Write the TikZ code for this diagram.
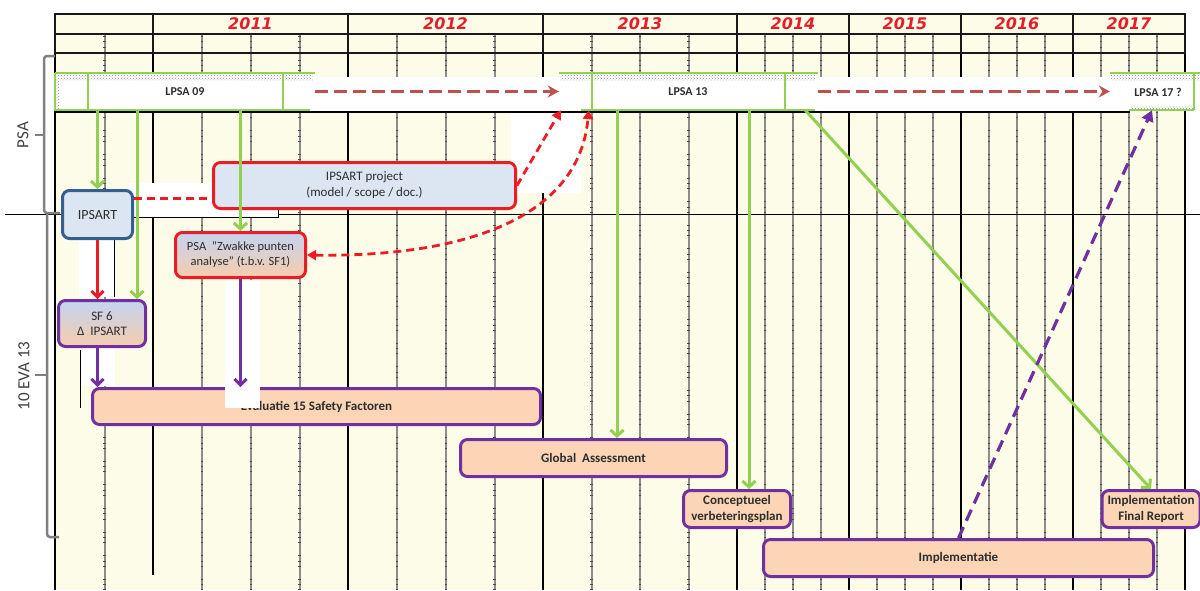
\documentclass[tikz,border=0pt]{standalone}
\usepackage{fontspec}
\setmainfont{Carlito}
\newfontfamily\yearfont{DejaVu Sans}
\usetikzlibrary{arrows.meta,patterns}
\definecolor{bgy}{RGB}{253,252,232}
\definecolor{grn}{RGB}{146,208,80}
\definecolor{rd}{RGB}{237,28,36}
\definecolor{drd}{RGB}{192,80,77}
\definecolor{prp}{RGB}{112,48,160}
\definecolor{blu}{RGB}{54,95,145}
\definecolor{lblu}{RGB}{220,230,242}
\definecolor{pch}{RGB}{251,213,181}
\definecolor{gtop}{RGB}{196,212,240}
\definecolor{gbot}{RGB}{246,204,172}
\definecolor{brk}{RGB}{128,128,128}
\definecolor{txt}{RGB}{45,45,45}
\definecolor{yr}{RGB}{230,30,40}
\definecolor{qgray}{RGB}{140,140,140}
\tikzset{
  rtip/.tip={Triangle[length=9pt,width=10pt]},
  qline/.style={draw=qgray, line width=2pt},
  qtick/.style={draw=black!70, line width=2.4pt, dash pattern=on 1pt off 4.3pt on 1pt off 4.3pt on 1pt off 12pt},
  yline/.style={draw=black, line width=1.6pt},
  hline/.style={draw=black!90, line width=2.5pt},
  yearlbl/.style={font=\yearfont\fontsize{16}{18}\selectfont\bfseries\itshape, text=yr, inner sep=0pt},
  brace/.style={draw=brk, line width=2.5pt, rounded corners=3pt},
  sidelbl/.style={font=\fontsize{17}{19}\selectfont, text=black!75, rotate=90, inner sep=0pt},
  gline/.style={draw=grn, line width=2.5pt},
  dots/.style={pattern=crosshatch dots, pattern color=black!45},
  barnode/.style={fill=white, inner sep=0pt, font=\fontsize{12}{14}\selectfont\bfseries, text=txt},
  box/.style={rounded corners=7pt, line width=3pt, inner sep=0pt, align=center, text=txt},
  bbox/.style={box, draw=blu, fill=lblu, font=\fontsize{14}{16}\selectfont},
  rbox/.style={box, draw=rd, fill=lblu, font=\fontsize{13}{16}\selectfont},
  pbox/.style={box, draw=prp, fill=pch, font=\fontsize{13}{16}\selectfont\bfseries},
  grad/.style={top color=gtop, bottom color=gbot},
  garrow/.style={draw=grn, line width=3pt, -{Straight Barb[length=6pt,width=13pt]}},
  rarrow/.style={draw=rd, line width=3pt, -{Straight Barb[length=6pt,width=12pt]}},
  parrow/.style={draw=prp, line width=3pt, -{Straight Barb[length=6pt,width=12pt]}},
  rdash/.style={draw=rd, line width=2.8pt, dash pattern=on 8pt off 5pt},
  ddash/.style={draw=drd, line width=3.2pt, dash pattern=on 13pt off 6pt, -{Stealth[length=11pt,width=12pt]}},
  pdash/.style={draw=prp, line width=3.2pt, dash pattern=on 12pt off 7pt, -{Triangle[length=11pt,width=12pt]}},
  whitebg/.style={fill=white},
  thinedge/.style={draw=black, line width=1pt}
}
\begin{document}
\begin{tikzpicture}[x=1pt,y=-1pt]
\useasboundingbox (0,0) rectangle (1200,590);
% background
\fill[bgy] (55,14) rectangle (1185,590);
% quarter lines
\foreach \x in {104.5,202,251,299.5,397,446,494.5,591.5,640,688.5,765,793,821,877,905,933,989,1017,1045,1101,1129,1157}{
  \draw[qline] (\x,34) -- (\x,590);
  \draw[qtick] (\x,36) -- (\x,590);
}
% year lines
\foreach \x in {55,348,543,737,849,961,1073,1185} \draw[yline] (\x,14) -- (\x,590);
\draw[yline] (153,14) -- (153,575);
\foreach \x in {55,153,348,543,737,849,961,1073,1185} \draw[hline] (\x,14) -- (\x,53);
\draw[hline] (54,14) -- (1186,14);
\draw[hline] (54,34) -- (1186,34);
\draw[hline] (54,53) -- (1186,53);
% year labels
\node[yearlbl] (y11) at (250.5,24) {2011};
\node[yearlbl] (y12) at (445.5,24) {2012};
\node[yearlbl] (y13) at (640,24) {2013};
\node[yearlbl] (y14) at (793,24) {2014};
\node[yearlbl] (y15) at (905,24) {2015};
\node[yearlbl] (y16) at (1017,24) {2016};
\node[yearlbl] (y17) at (1129,24) {2017};
% separators
\draw[black, line width=1.5pt] (5,214.5) -- (1200,214.5);
\draw[black, line width=1.2pt] (55,112) -- (1130,112);
% braces and side labels
\draw[brace] (55,56) -- (44,56) -- (44,213) -- (60,213);
\draw[brace] (44,135) -- (35,135);
\draw[brace] (47,214) -- (47,537) -- (59,537);
\draw[brace] (47,375) -- (35,375);
\node[sidelbl] (psalbl) at (23,135) {PSA};
\node[sidelbl] (evalbl) at (24,376) {10 EVA 13};
% white backgrounds behind connectors
\fill[whitebg] (310,77) rectangle (561,111.3);
\fill[whitebg] (815,77) rectangle (1131,111.3);
\fill[whitebg] (511,113) rectangle (581,193);
\fill[whitebg] (130,183) rectangle (278,217);
\draw[thinedge] (130,217) -- (278,217) -- (278,208);
\fill[whitebg] (79,240) rectangle (114,297);
\draw[thinedge] (114,237) -- (114,297);
\fill[whitebg] (80,348) rectangle (115,386);
\draw[thinedge] (80.5,350) -- (80.5,408);
% LPSA bars
\node[barnode, minimum width=260pt, minimum height=37pt] (lpsa09) at (185,91.5) {};
\fill[dots] (56,74.5) rectangle (313,80);
\fill[dots] (56,80) rectangle (59,109);
\node[barnode] (t09) at (185,92) {LPSA 09};
\draw[gline] (55,73) -- (315,73);
\draw[gline] (55,73) -- (55,110) -- (310,110);
\draw[gline] (88,73) -- (88,110);
\draw[gline] (283,73) -- (283,110);
\node[barnode, minimum width=259pt, minimum height=37pt] (lpsa13) at (688.5,91.5) {};
\fill[dots] (560,74.5) rectangle (815,80);
\node[barnode] (t13) at (688,92) {LPSA 13};
\draw[gline] (559,73) -- (818,73);
\draw[gline] (581,110) -- (815,110);
\draw[gline] (592,73) -- (592,110);
\draw[gline] (785,73) -- (785,110);
\node[barnode, minimum width=96pt, minimum height=37pt] (lpsa17) at (1158,91.5) {};
\fill[dots] (1111,74.5) rectangle (1200,80);
\fill[dots] (1130,106) rectangle (1193,109);
\node[barnode] (t17) at (1158,92) {LPSA 17 ?};
\draw[gline] (1110,73) -- (1201,73);
\draw[gline] (1129,110) -- (1194,110);
\draw[gline] (1194,73) -- (1194,110);
% boxes
\node[bbox, minimum width=70pt, minimum height=48pt] (ipsart) at (97.5,214.5) {IPSART};
\node[rbox, minimum width=302pt, minimum height=46pt] (ipproj) at (364.5,185.5) {IPSART project\\(model / scope / doc.)};
\node[rbox, grad, minimum width=130pt, minimum height=45pt, font=\fontsize{12.5}{15}\selectfont] (psaz) at (240.5,255) {PSA~~"Zwakke punten\\analyse" (t.b.v. SF1)};
\node[pbox, grad, minimum width=87pt, minimum height=46pt, font=\fontsize{13}{15.5}\selectfont] (sf6) at (102,323.5) {SF 6\\Δ~~IPSART};
\node[pbox, minimum width=448pt, minimum height=36pt] (eval) at (316.5,406.5) {Evaluatie 15 Safety Factoren};
\node[pbox, minimum width=266pt, minimum height=37pt] (global) at (593.5,458) {Global~~Assessment};
\node[pbox, minimum width=107pt, minimum height=37pt] (concept) at (737,509) {Conceptueel\\verbeteringsplan};
\node[pbox, minimum width=390pt, minimum height=37pt] (impl) at (958.5,558) {Implementatie};
\node[pbox, minimum width=98pt, minimum height=37pt] (final) at (1151,509) {Implementation\\Final Report};
\fill[whitebg] (225,279.5) rectangle (260,408);
% green connectors
\coordinate (g1) at (137,110);
\coordinate (g4) at (617,110);
\coordinate (g5) at (749,110);
\coordinate (g6) at (805,110);
\draw[garrow] (ipsart.north |- lpsa09.south) -- (ipsart.north);
\draw[garrow] (g1) -- (g1 |- sf6.north);
\draw[garrow] (psaz.north |- lpsa09.south) -- (psaz.north);
\draw[garrow] (g4) -- (g4 |- global.north);
\draw[garrow] (g5) -- (g5 |- concept.north);
\draw[garrow] (g6) -- (final.north);
% red / purple solid connectors
\draw[rarrow] (ipsart.south) -- (ipsart.south |- sf6.north);
\draw[parrow] (ipsart.south |- sf6.south) -- (ipsart.south |- eval.north);
\draw[parrow] (psaz.south) -- (psaz.south |- eval.north);
% dashed connectors
\coordinate (a1) at ([yshift=16pt]ipsart.east);
\draw[rdash] (a1) -- (a1 -| ipproj.west);
\draw[rdash, -{rtip}] (ipproj.east) -- ([xshift=2pt]lpsa13.south west);
\draw[rdash, {rtip}-{rtip}] (psaz.east) .. controls (450,257) and (578,225) .. ([xshift=30pt]lpsa13.south west);
\draw[ddash] (lpsa09.east) -- (lpsa13.west);
\draw[ddash] (lpsa13.east) -- (lpsa17.west);
\draw[pdash] (impl.north) -- ([xshift=-6pt]lpsa17.south);
\end{tikzpicture}
\end{document}
